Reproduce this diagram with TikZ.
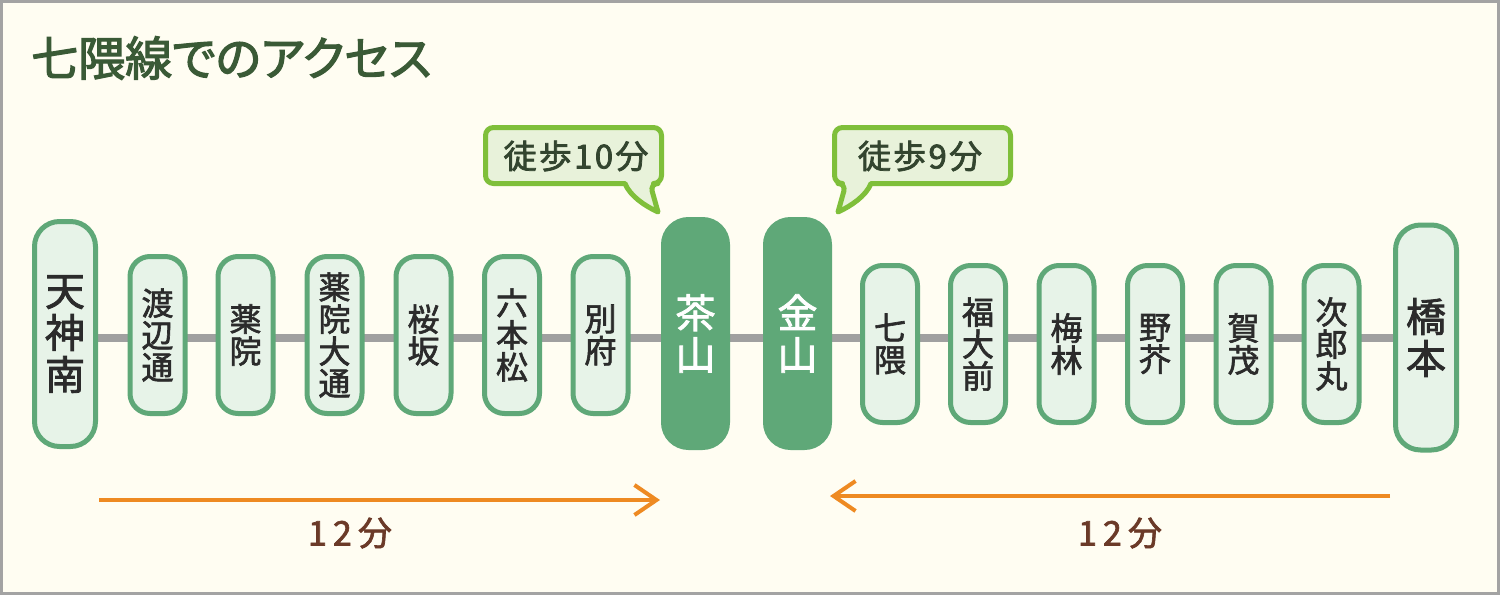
\documentclass[tikz,border=0pt]{standalone}
\usepackage{fontspec}
\setmainfont{Noto Sans CJK JP}
\newfontfamily\jpmed[FakeBold=2]{Noto Sans CJK JP}
\newfontfamily\jptitle[FakeBold=2.5,RawFeature=+palt]{Noto Sans CJK JP}
\newfontfamily\jpbub[FakeBold=2.2,LetterSpace=7]{Noto Sans CJK JP}
\newfontfamily\jpmin[FakeBold=2,LetterSpace=18]{Noto Sans CJK JP}
\usetikzlibrary{arrows.meta,backgrounds}
\definecolor{bg}{HTML}{FFFDF2}
\definecolor{frame}{HTML}{A3A3A3}
\definecolor{stgreen}{HTML}{5FA878}
\definecolor{stfill}{HTML}{E7F3E8}
\definecolor{sttext}{HTML}{2B2B2B}
\definecolor{titlec}{HTML}{3A5A36}
\definecolor{bubline}{HTML}{7FBF3A}
\definecolor{bubfill}{HTML}{E8F2DA}
\definecolor{bubtext}{HTML}{33452F}
\definecolor{railc}{HTML}{A0A0A0}
\definecolor{arrowc}{HTML}{EE8A22}
\definecolor{minc}{HTML}{6B3A28}
\newcommand\stfont{\fontsize{32}{32}\selectfont\jpmed}
\newcommand\bigstfont{\fontsize{40}{42}\selectfont\jpmed}
\begin{document}
\begin{tikzpicture}[x=1pt,y=-1pt,
  st/.style={draw=stgreen, fill=stfill, line width=5pt, rounded corners=20pt,
    minimum width=55pt, minimum height=157pt, inner sep=0pt, align=center,
    text=sttext, font=\stfont},
  bigst/.style={st, minimum width=61pt, minimum height=225pt, rounded corners=25pt, font=\bigstfont},
  darkst/.style={bigst, fill=stgreen, text=white, minimum width=64pt, minimum height=228pt},
  rail/.style={draw=railc, line width=8pt},
  bubble/.style={draw=bubline, fill=bubfill, line width=5pt, line join=round},
  bubtxt/.style={text=bubtext, font=\fontsize{33}{33}\selectfont\jpbub, inner sep=0pt},
  walk/.style={draw=arrowc, line width=4pt, -{Straight Barb[length=22pt,width=30pt,line width=4pt]}},
  mins/.style={text=minc, font=\fontsize{34}{34}\selectfont\jpmin, inner sep=0pt}
]
\path[use as bounding box] (0,0) rectangle (1500,595);
% title
\node[anchor=west, inner sep=0pt, text=titlec, font=\fontsize{47}{47}\selectfont\jptitle] (title) at (31,58) {七隈線でのアクセス};
% stations
\node[bigst] (tjn) at (65,334) {天\\神\\南};
\node[st] (wtn) at (157.5,335) {渡\\辺\\通};
\node[st] (yki) at (245.5,335) {薬\\院};
\node[st] (ykd) at (334.5,335) {薬\\院\\大\\通};
\node[st] (skz) at (423.5,335) {桜\\坂};
\node[st] (rpm) at (512,335) {六\\本\\松};
\node[st] (bpu) at (600.5,335) {別\\府};
\node[darkst] (cyy) at (695.5,333.5) {茶\\山};
\node[darkst] (kny) at (797.5,333.5) {金\\山};
\node[st] (nnk) at (890,344) {七\\隈};
\node[st] (fdm) at (978,344) {福\\大\\前};
\node[st] (umb) at (1066.5,344) {梅\\林};
\node[st] (nke) at (1155,344) {野\\芥};
\node[st] (kmo) at (1243.5,344) {賀\\茂};
\node[st] (jrm) at (1331.5,344) {次\\郎\\丸};
\node[bigst] (hsm) at (1426,337.5) {橋\\本};
\coordinate (ry) at (0,338);
\begin{scope}[on background layer]
\fill[bg] (0,0) rectangle (1500,595);
\draw[frame, line width=3pt] (1.5,1.5) rectangle (1498.5,593.5);
\foreach \a/\b in {tjn/wtn,wtn/yki,yki/ykd,ykd/skz,skz/rpm,rpm/bpu,bpu/cyy,cyy/kny,kny/nnk,nnk/fdm,fdm/umb,umb/nke,nke/kmo,kmo/jrm,jrm/hsm}
  \draw[rail] (\a.center |- ry) -- (\b.center |- ry);
\end{scope}
% bubbles
\draw[bubble] (485.5,127.5) [rounded corners=8pt] -- (661.5,127.5) -- (661.5,183.5) -- (650,183.5) [sharp corners] -- (658,212) .. controls (645,206) and (630,196) .. (625,183.5) [rounded corners=8pt] -- (485.5,183.5) -- cycle;
\node[bubtxt] (w1) at (576,156) {徒歩10分};
\draw[bubble] (1010.5,127.5) [rounded corners=8pt] -- (834.5,127.5) -- (834.5,183.5) -- (846,183.5) [sharp corners] -- (838,212) .. controls (851,206) and (866,196) .. (871,183.5) [rounded corners=8pt] -- (1010.5,183.5) -- cycle;
\node[bubtxt] (w2) at (920,156) {徒歩9分};
% travel arrows
\coordinate (a1s) at (99,500);
\coordinate (a1e) at (660,500);
\coordinate (a2s) at (1390,496);
\coordinate (a2e) at (830,496);
\draw[walk] (a1s) -- (a1e);
\draw[walk] (a2s) -- (a2e);
\node[mins] (m1) at (350,533) {12分};
\node[mins] (m2) at (1120,533) {12分};
\end{tikzpicture}
\end{document}
